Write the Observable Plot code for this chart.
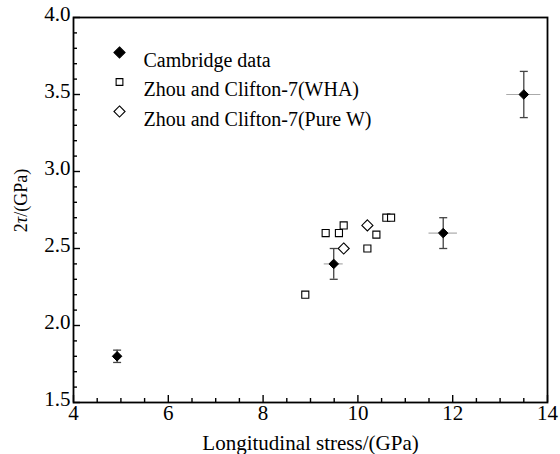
<!DOCTYPE html>
<html><head><meta charset="utf-8">
<script src="https://cdn.jsdelivr.net/npm/d3@7"></script>
<script src="https://cdn.jsdelivr.net/npm/@observablehq/plot@0.6"></script>
<style>
body{margin:0;background:#fff}
#chart svg{display:block}
#chart svg, #chart svg text{font-family:"Liberation Serif","Times New Roman",serif}
</style>
</head><body><div id="chart"></div>
<script>
// Cambridge data (filled diamonds with error bars)
const cambridgeStress    = [4.92, 9.49, 11.8, 13.5];
const cambridgeTau       = [1.80, 2.40, 2.60, 3.50];
const cambridgeTauErr    = [0.04, 0.10, 0.10, 0.15];
const cambridgeStressErr = [0, 0.20, 0.30, 0.36];
// Zhou and Clifton-7 (WHA) - open squares
const whaStress = [8.89, 9.32, 9.60, 9.70, 10.20, 10.39, 10.60, 10.70];
const whaTau    = [2.20, 2.60, 2.60, 2.65, 2.50, 2.59, 2.70, 2.70];
// Zhou and Clifton-7 (Pure W) - open diamonds
const pureWStress = [9.70, 10.20];
const pureWTau    = [2.50, 2.65];

const seriesNames = ["Cambridge data", "Zhou and Clifton-7(WHA)", "Zhou and Clifton-7(Pure W)"];
const xTicks = [4, 6, 8, 10, 12, 14];
const yTicks = [1.5, 2.0, 2.5, 3.0, 3.5, 4.0];
const xMinorTicks = [4.5,5,5.5,6.5,7,7.5,8.5,9,9.5,10.5,11,11.5,12.5,13,13.5];
const yMinorTicks = [1.6,1.7,1.8,1.9,2.1,2.2,2.3,2.4,2.6,2.7,2.8,2.9,3.1,3.2,3.3,3.4,3.6,3.7,3.8,3.9];
const xLabel = "Longitudinal stress/(GPa)";
const yLabel = "2τ/(GPa)";

const cambridge = cambridgeStress.map((s, i) => ({stress: s, tau: cambridgeTau[i], tauErr: cambridgeTauErr[i], stressErr: cambridgeStressErr[i]}));
const wha = whaStress.map((s, i) => ({stress: s, tau: whaTau[i]}));
const pureW = pureWStress.map((s, i) => ({stress: s, tau: pureWTau[i]}));

const font = "Liberation Serif";
const cap = {draw(ctx, size) { const w = Math.sqrt(size / Math.PI); ctx.moveTo(-w, 0); ctx.lineTo(w, 0); }};

const legend = [
  {name: seriesNames[0], symbol: "diamond2", fill: "black", r: 5},
  {name: seriesNames[1], symbol: "square2", fill: "white", r: 4.3},
  {name: seriesNames[2], symbol: "diamond2", fill: "white", r: 5}
];
const legendMarks = legend.flatMap((e, i) => [
  Plot.dot([e], {frameAnchor: "top-left", dx: 46, dy: 35 + i * 29.5, symbol: e.symbol, r: e.r, fill: e.fill, stroke: "black", strokeWidth: 1.1}),
  Plot.text([e], {frameAnchor: "top-left", dx: 70, dy: 35 + i * 29.5, text: "name", textAnchor: "start", fontSize: 20, fontFamily: font})
]);

const chart = Plot.plot({
  width: 560, height: 454,
  marginLeft: 73, marginRight: 13, marginTop: 17, marginBottom: 52,
  x: {domain: [4, 14]},
  y: {domain: [1.5, 4]},
  style: {fontFamily: font, fontSize: "21px", background: "white", color: "black"},
  marks: [
    Plot.axisX(xTicks, {tickSize: -7, tickPadding: 10, strokeWidth: 1.4, tickFormat: d3.format("d"), label: null, fontSize: 21, fontFamily: font}),
    Plot.axisX(xMinorTicks, {tickSize: -4, strokeWidth: 1.4, fill: "none", label: null}),
    Plot.axisY(yTicks, {tickSize: -7, strokeWidth: 1.4, fill: "none", label: null}),
    Plot.axisY(yTicks, {tickSize: 0, tickPadding: 3, dy: -3, tickFormat: d3.format(".1f"), label: null, fontSize: 21, fontFamily: font}),
    Plot.axisY(yMinorTicks, {tickSize: -4, strokeWidth: 1.4, fill: "none", label: null}),
    Plot.frame({stroke: "black", strokeWidth: 1.8}),
    // error bars
    Plot.ruleY(cambridge.filter(d => d.stressErr > 0), {y: "tau", x1: d => d.stress - d.stressErr, x2: d => d.stress + d.stressErr, stroke: "#aaa", strokeWidth: 1.2}),
    Plot.ruleX(cambridge, {x: "stress", y1: d => d.tau - d.tauErr, y2: d => d.tau + d.tauErr, stroke: "#444", strokeWidth: 1.3}),
    Plot.dot(cambridge, {x: "stress", y: d => d.tau - d.tauErr, symbol: cap, r: 4, stroke: "#444", strokeWidth: 1.3}),
    Plot.dot(cambridge, {x: "stress", y: d => d.tau + d.tauErr, symbol: cap, r: 4, stroke: "#444", strokeWidth: 1.3}),
    // points
    Plot.dot(wha, {x: "stress", y: "tau", symbol: "square2", r: 4.5, fill: "white", stroke: "black", strokeWidth: 1.1}),
    Plot.dot(pureW, {x: "stress", y: "tau", symbol: "diamond2", r: 5, fill: "white", stroke: "black", strokeWidth: 1.1}),
    Plot.dot(cambridge, {x: "stress", y: "tau", symbol: "diamond2", r: 4.3, fill: "black", stroke: "black", strokeWidth: 1}),
    ...legendMarks,
    // axis labels
    Plot.text([xLabel], {frameAnchor: "bottom", text: d => d, dy: 47, fontSize: 21, fontFamily: font}),
    Plot.text([yLabel], {frameAnchor: "left", text: d => d, textAnchor: "middle", rotate: -90, dx: -52, dy: -9.5, fontSize: 18, fontFamily: font})
  ]
});
chart.setAttribute("font-family", "Liberation Serif, Times New Roman, serif");
document.getElementById("chart").appendChild(chart);
// italicize tau in the y label
chart.querySelectorAll("text").forEach(t => {
  if (t.textContent === yLabel) {
    t.textContent = "";
    const ns = "http://www.w3.org/2000/svg";
    const a = document.createElementNS(ns, "tspan"); a.textContent = "2";
    const b = document.createElementNS(ns, "tspan"); b.textContent = "τ"; b.setAttribute("font-style", "italic");
    const c = document.createElementNS(ns, "tspan"); c.textContent = "/(GPa)";
    t.append(a, b, c);
  }
});
</script>
</body></html>
